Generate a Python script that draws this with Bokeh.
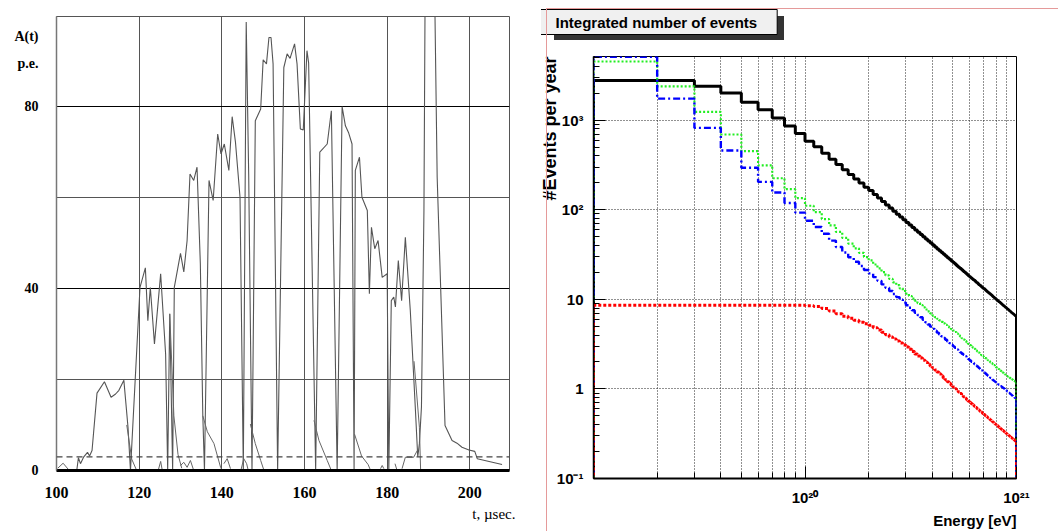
import numpy as np
from bokeh.plotting import figure
from bokeh.models import Range1d, FixedTicker, Grid, Span, Title, Div
from bokeh.embed import file_html
from bokeh.resources import INLINE

# ---------------- left panel : pulse A(t) ----------------
time_ticks = [100, 120, 140, 160, 180, 200]
amp_labelled = [0, 40, 80]
amp_grid_dark = [40, 80]
amp_grid_light = [20, 60]
amp_threshold = 3.0
time_range = (100, 209.6)
amp_range = (0, 99.7)
# the unit captions sit in the tick-label column at these heights
caption_A_at = 95.2
caption_pe_at = 89.4

# main waveform (t [usec], A [p.e.])
pulse_main = [
    (104.9, 0), (105.3, 2.8), (105.8, 1.5), (106.6, 3.0), (107.5, 4.0), (108.0, 3.2), (108.6, 4.4),
    (109.8, 17.0), (111.6, 19.5), (113.2, 16.1), (114.3, 16.8), (115.1, 17.6), (116.3, 19.8),
    (117.3, 9.5), (117.9, 0), (120.2, 40.2), (121.5, 44.5), (122.1, 32.9), (122.7, 40.2),
    (123.7, 27.8), (125.2, 43.2), (126.4, 25.6), (126.9, 0), (127.4, 34.4), (128.1, 0),
    (128.5, 40.2), (130.0, 47.7), (130.8, 43.6), (131.6, 50.5), (132.3, 65.1), (133.2, 63.7),
    (134.0, 66.6), (134.8, 45.4), (135.4, 12), (135.8, 0), (136.9, 63.7), (137.9, 59.3),
    (139.0, 73.9), (139.8, 69.5), (140.6, 71.7), (141.7, 65.9), (142.5, 77.7), (143.3, 72.1),
    (144.4, 60.0), (145.2, 0), (145.9, 98.5), (146.5, 65), (147.3, 0), (148.1, 76.8),
    (149.4, 79.4), (150.0, 90.2), (150.8, 89.3), (151.4, 95.1), (151.9, 95.1), (152.4, 89.3),
    (153.5, 0), (155.0, 88.5), (155.8, 91.5), (156.5, 90.5), (157.6, 93.7), (158.2, 89.3),
    (159.0, 75.0), (159.7, 74.8), (160.6, 92.2), (161.0, 89.5), (162.7, 0), (163.7, 69.9),
    (165.5, 71.7), (166.5, 79.0), (167.9, 0), (169.1, 79.9), (169.9, 75.7), (170.7, 74.1),
    (171.5, 71.7), (172.0, 0), (172.3, 65.9), (173.3, 68.8), (173.9, 60.0), (175.2, 57.1),
    (175.7, 38.8), (176.2, 53.4), (177.0, 48.7), (177.8, 50.5), (178.8, 42.4), (180.0, 43.2),
    (180.4, 0), (181.0, 37.3), (181.6, 38.1), (182.0, 35.9), (182.7, 46.1), (183.5, 37.3),
    (184.4, 51.2), (185.6, 35.1), (186.8, 14), (187.4, 3), (187.8, 5.9), (188.3, 14),
    (188.9, 57.1), (189.3, 125), (191.2, 125), (192.1, 64.4), (194.0, 9.9), (195.7, 6.6),
    (196.9, 6.0), (198.1, 5.1), (199.8, 4.5), (201.2, 4.2), (201.8, 2.6), (207.8, 1.3),
]

# small pieces and tails near the baseline
pulse_low = [
    [(100.3, 0.5), (101.6, 1.6), (102.9, 0.2)],
    [(117.0, 10), (118.2, 2.5), (119.4, 0)],
    [(124.6, 0), (125.2, 2.0), (125.6, 0)],
    [(127.4, 34.4), (128.4, 12), (129.4, 3.5), (130.3, 0.5)],
    [(130.0, 1.1), (130.8, 1.8), (131.6, 0.7), (132.4, 2.2), (133.2, 0)],
    [(135.4, 12), (136.5, 8.5), (138.1, 5.9), (139.7, 0.7), (140.1, 0)],
    [(140.5, 1.5), (141.3, 2.6), (142.1, 0.4)],
    [(144.6, 0), (145.3, 2.6), (146.0, 1.5), (146.4, 0)],
    [(146.9, 10.2), (148.1, 5.9), (149.4, 2.2), (150.2, 0)],
    [(162.3, 11), (163.5, 6.6), (165.5, 2.2), (166.5, 0)],
    [(172.1, 8), (173.8, 3.2), (175.4, 1.3), (176.0, 0)],
    [(178.4, 0.4), (178.8, 1.1), (179.2, 0.4)],
    [(181.9, 1.5), (182.4, 0)],
    [(183.6, 0.4), (184.4, 2.9), (186.4, 2.9), (187.3, 4.4)],
    [(186.5, 24), (187.8, 9.5), (188.1, 0)],
]

# ---------------- right panel : integrated number of events ----------------
energy_first_edge = 1e19
energy_bin_width = 1e19
events_range = (0.1, 5150)
energy_range = (1e19, 1e21)
x_major = [1e20, 1e21]
x_major_labels = ["10\u00b2\u2070", "10\u00b2\u00b9"]
y_major = [0.1, 1, 10, 100, 1000]
y_major_labels = ["10\u207b\u00b9", "1", "10", "10\u00b2", "10\u00b3"]
title_text = "Integrated number of events"
x_title = "Energy [eV]"
y_title = "#Events per year"

events_black = [
    2780, 2780, 2390, 2010, 1590, 1310, 1060, 860, 711, 584,
    506, 429, 368, 320, 281, 248, 221, 199, 179, 164,
    148.6, 135.3, 123.7, 113.5, 104.5, 96.5, 89.4, 83.1, 77.4, 72.3,
    67.7, 63.5, 59.6, 56.1, 53.0, 50.0, 47.3, 44.8, 42.6, 40.4,
    38.5, 36.6, 34.9, 33.4, 31.9, 30.5, 29.2, 28.0, 26.8, 25.8,
    24.8, 23.8, 22.9, 22.1, 21.3, 20.5, 19.8, 19.1, 18.4, 17.8,
    17.2, 16.7, 16.2, 15.6, 15.2, 14.7, 14.3, 13.8, 13.4, 13.1,
    12.7, 12.3, 12.0, 11.7, 11.4, 11.1, 10.8, 10.5, 10.2, 9.97,
    9.72, 9.48, 9.26, 9.03, 8.82, 8.61, 8.42, 8.22, 8.04, 7.86,
    7.69, 7.52, 7.36, 7.20, 7.05, 6.90, 6.76, 6.62, 6.48,
]
events_green = [
    4530, 2390, 1240, 693, 453, 314, 225, 170, 135, 111,
    94.1, 78.9, 67.0, 56.6, 48.6, 42.0, 37.2, 33.1, 29.7, 27.2,
    24.5, 22.2, 20.2, 18.5, 16.9, 15.5, 14.4, 13.3, 12.4, 11.6,
    10.9, 10.2, 9.66, 9.09, 8.64, 8.15, 7.71, 7.35, 6.99, 6.63,
    6.35, 6.08, 5.83, 5.61, 5.39, 5.19, 4.99, 4.82, 4.64, 4.49,
    4.32, 4.14, 3.98, 3.85, 3.68, 3.55, 3.43, 3.30, 3.18, 3.08,
    2.98, 2.89, 2.80, 2.70, 2.63, 2.54, 2.47, 2.39, 2.32, 2.27,
    2.21, 2.14, 2.09, 2.04, 1.98, 1.94, 1.89, 1.84, 1.79, 1.74,
    1.70, 1.67, 1.63, 1.59, 1.55, 1.52, 1.49, 1.45, 1.42, 1.39,
    1.37, 1.35, 1.32, 1.30, 1.28, 1.26, 1.23, 1.21, 1.19,
]
events_blue = [
    5100, 1742, 822, 460, 295, 205, 156, 119, 93, 75.5,
    64.3, 54.0, 45.3, 38.4, 33.4, 29.5, 26.3, 23.6, 21.3, 19.5,
    17.7, 16.1, 14.7, 13.5, 12.4, 11.5, 10.6, 9.89, 9.21, 8.60,
    8.06, 7.56, 7.09, 6.68, 6.31, 5.90, 5.55, 5.24, 4.96, 4.69,
    4.47, 4.25, 4.05, 3.87, 3.70, 3.54, 3.39, 3.25, 3.11, 2.99,
    2.88, 2.76, 2.66, 2.56, 2.47, 2.40, 2.32, 2.23, 2.15, 2.08,
    2.01, 1.95, 1.90, 1.83, 1.78, 1.72, 1.67, 1.61, 1.57, 1.53,
    1.49, 1.44, 1.40, 1.37, 1.33, 1.30, 1.26, 1.23, 1.20, 1.18,
    1.15, 1.12, 1.09, 1.07, 1.05, 1.03, 1.01, 0.986, 0.965, 0.943,
    0.923, 0.902, 0.883, 0.864, 0.846, 0.828, 0.811, 0.794, 0.778,
]
events_red = [
    8.6, 8.6, 8.6, 8.6, 8.6, 8.6, 8.6, 8.6, 8.6, 8.5,
    8.3, 7.9, 7.4, 6.9, 6.5, 6.15, 5.83, 5.57, 5.34, 5.13,
    4.83, 4.55, 4.29, 4.03, 3.80, 3.61, 3.43, 3.26, 3.10, 2.94,
    2.77, 2.61, 2.46, 2.33, 2.21, 2.09, 1.99, 1.89, 1.80, 1.72,
    1.629, 1.545, 1.467, 1.395, 1.327, 1.265, 1.206, 1.152, 1.101, 1.053,
    1.008, 0.966, 0.926, 0.889, 0.854, 0.820, 0.789, 0.759, 0.731, 0.705,
    0.682, 0.660, 0.639, 0.620, 0.601, 0.583, 0.565, 0.549, 0.533, 0.518,
    0.503, 0.490, 0.476, 0.463, 0.451, 0.439, 0.428, 0.417, 0.407, 0.397,
    0.387, 0.377, 0.368, 0.360, 0.351, 0.343, 0.335, 0.328, 0.320, 0.313,
    0.306, 0.300, 0.293, 0.287, 0.281, 0.275, 0.270, 0.264, 0.259,
]

series_styles = [
    (events_black, "#000000", 3.0, "solid"),
    (events_green, "#22ee22", 2.2, "2 2"),
    (events_blue, "#0000ff", 2.4, "7 3 2 3"),
    (events_red, "#ff0000", 3.0, "3 2"),
]

# ======================= left figure =======================
SERIF = "Liberation Serif"
p1 = figure(frame_width=453, frame_height=454,
            min_border_left=56, min_border_right=32, min_border_top=16, min_border_bottom=61,
            x_range=Range1d(*time_range), y_range=Range1d(*amp_range),
            toolbar_location=None, title_location=None, output_backend="svg",
            styles={"position": "absolute", "left": "0px", "top": "0px"})
p1.outline_line_color = "#555555"
p1.outline_line_width = 1
p1.background_fill_color = "white"
p1.border_fill_color = "white"

xa = p1.xaxis[0]
xa.ticker = FixedTicker(ticks=time_ticks)
xa.major_tick_line_color = None
xa.minor_tick_line_color = None
xa.axis_line_color = "black"
xa.axis_line_width = 3
xa.major_label_text_font = SERIF
xa.major_label_text_font_style = "bold"
xa.major_label_text_font_size = "16px"
xa.major_label_text_color = "black"
xa.major_label_standoff = 10

ya = p1.yaxis[0]
ya.ticker = FixedTicker(ticks=amp_labelled + [caption_pe_at, caption_A_at])
ya.major_label_overrides = {caption_pe_at: "p.e.", caption_A_at: "A(t)"}
ya.major_tick_line_color = None
ya.minor_tick_line_color = None
ya.axis_line_color = "#777777"
ya.axis_line_width = 1.5
ya.major_label_text_font = SERIF
ya.major_label_text_font_style = "bold"
ya.major_label_text_font_size = "14px"
ya.major_label_text_color = "black"
ya.major_label_standoff = 12

p1.xgrid.ticker = FixedTicker(ticks=time_ticks)
p1.xgrid.grid_line_color = "#555555"
p1.xgrid.grid_line_width = 1
p1.ygrid.ticker = FixedTicker(ticks=amp_grid_dark)
p1.ygrid.grid_line_color = "black"
p1.ygrid.grid_line_width = 1.2
p1.add_layout(Grid(dimension=1, ticker=FixedTicker(ticks=amp_grid_light),
                   grid_line_color="#555555", grid_line_width=1))

p1.add_layout(Span(location=amp_threshold, dimension="width", line_color="#444444",
                   line_width=1.2, line_dash="6 4"))

p1.line([t for t, a in pulse_main], [a for t, a in pulse_main],
        line_color="#555555", line_width=1.1)
p1.multi_line([[t for t, a in seg] for seg in pulse_low],
              [[a for t, a in seg] for seg in pulse_low],
              line_color="#666666", line_width=1.0)

p1.add_layout(Title(text="t, \u00b5sec.", align="right", offset=-6, standoff=6,
                    text_font=SERIF, text_font_size="15px", text_font_style="normal",
                    text_color="black"), "below")

# ======================= right figure =======================
SANS = "Liberation Sans"
p2 = figure(x_axis_type="log", y_axis_type="log",
            frame_width=423, frame_height=422,
            min_border_left=52, min_border_right=42, min_border_top=69, min_border_bottom=53,
            x_range=Range1d(*energy_range), y_range=Range1d(*events_range),
            toolbar_location=None, title_location=None, output_backend="svg",
            styles={"position": "absolute", "left": "541px", "top": "-15px"})
p2.outline_line_color = "black"
p2.outline_line_width = 1
p2.background_fill_color = "white"
p2.border_fill_color = None

x_minor = [m * 10.0 ** d for d in (19, 20) for m in range(2, 10)]
y_minor = [m * 10.0 ** d for d in (-1, 0, 1, 2, 3) for m in range(2, 10) if m * 10.0 ** d < events_range[1]]

xb = p2.xaxis[0]
xb.ticker = FixedTicker(ticks=x_major, minor_ticks=x_minor)
xb.major_label_overrides = dict(zip(x_major, x_major_labels))
yb = p2.yaxis[0]
yb.ticker = FixedTicker(ticks=y_major, minor_ticks=y_minor)
yb.major_label_overrides = dict(zip(y_major, y_major_labels))
for ax in (xb, yb):
    ax.major_tick_in = 12
    ax.major_tick_out = 0
    ax.minor_tick_in = 6
    ax.minor_tick_out = 0
    ax.major_tick_line_color = "black"
    ax.minor_tick_line_color = "black"
    ax.major_label_text_font = SANS
    ax.major_label_text_font_style = "bold"
    ax.major_label_text_font_size = "15px"
    ax.major_label_text_color = "black"
    ax.axis_line_color = "black"
xb.axis_line_width = 2
yb.axis_line_width = 1.5
xb.major_label_standoff = 10
yb.major_label_standoff = 10

p2.xgrid.grid_line_color = "#222222"
p2.xgrid.grid_line_dash = "1 2"
p2.xgrid.grid_line_width = 1
p2.xgrid.minor_grid_line_color = "#222222"
p2.xgrid.minor_grid_line_dash = "1 2"
p2.xgrid.minor_grid_line_width = 1
p2.ygrid.grid_line_color = "#222222"
p2.ygrid.grid_line_dash = "1 2"
p2.ygrid.grid_line_width = 1

edges = energy_first_edge + energy_bin_width * np.arange(len(events_black) + 1)
xs_step = np.repeat(edges, 2)
y_floor = events_range[0] * 0.5
for vals, col, lw, dash in series_styles:
    assert len(vals) == len(events_black)
    ys_step = np.concatenate([[y_floor], np.repeat(np.asarray(vals, float), 2), [y_floor]])
    p2.line(xs_step, ys_step, line_color=col, line_width=lw, line_dash=dash)

p2.add_layout(Title(text=title_text, align="left", offset=-58, standoff=44,
                    text_font=SANS, text_font_size="15px", text_font_style="bold",
                    text_color="black", background_fill_color="#f0f0f0",
                    border_line_color="black", border_line_width=1,
                    padding=(20, 20, 4, 4)), "above")
p2.add_layout(Title(text=y_title, align="right", standoff=-12,
                    text_font=SANS, text_font_size="18px", text_font_style="bold",
                    text_color="black"), "left")
p2.add_layout(Title(text=x_title, align="right", standoff=2,
                    text_font=SANS, text_font_size="15px", text_font_style="bold",
                    text_color="black"), "below")

# drop shadow behind the title box and the pad frame of the right canvas
title_shadow = Div(text="", width=230, height=24,
                   styles={"position": "absolute", "left": "549px", "top": "11px",
                           "background-color": "#333333"})
pad_frame = Div(text="", width=517, height=526,
                styles={"position": "absolute", "left": "541px", "top": "3px",
                        "border": "1px solid #e59a9a", "box-sizing": "border-box",
                        "pointer-events": "none"})

open("out.html", "w", encoding="utf-8").write(
    file_html([p1, title_shadow, p2, pad_frame], INLINE))
